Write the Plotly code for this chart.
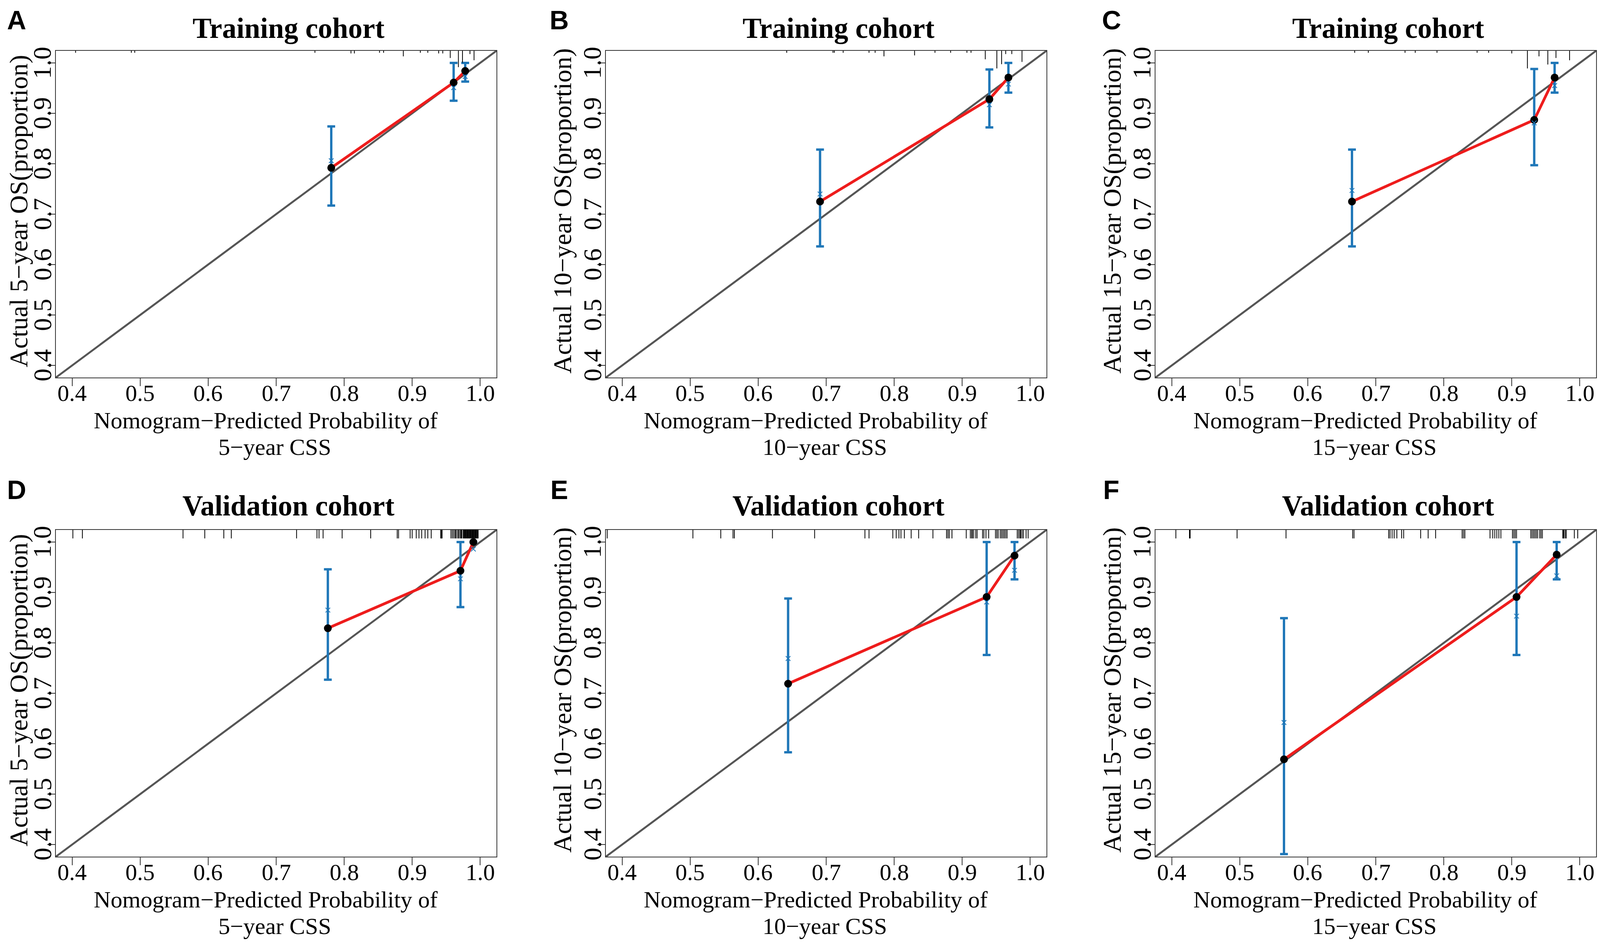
import plotly.graph_objects as go

# ---------------- data ----------------
TICK_VALS = [0.4, 0.5, 0.6, 0.7, 0.8, 0.9, 1.0]
TICK_TEXT = ["0.4", "0.5", "0.6", "0.7", "0.8", "0.9", "1.0"]
AX_RANGE = [0.376, 1.024]

PANEL_LETTERS = ["A", "B", "C", "D", "E", "F"]
PANEL_TITLES = ["Training cohort", "Training cohort", "Training cohort",
                "Validation cohort", "Validation cohort", "Validation cohort"]
Y_TITLES = ["Actual 5\u2212year OS(proportion)", "Actual 10\u2212year OS(proportion)",
            "Actual 15\u2212year OS(proportion)"] * 2
X_TITLE_1 = "Nomogram\u2212Predicted Probability of"
X_TITLE_2 = ["5\u2212year CSS", "10\u2212year CSS", "15\u2212year CSS"] * 2

# Panel A (training, 5-year)
A_pred = [0.781, 0.961, 0.978]
A_obs = [0.792, 0.961, 0.984]
A_lo = [0.717, 0.925, 0.963]
A_hi = [0.874, 1.000, 1.000]
A_bc = [0.806, 0.951, 0.973]
A_rug = [0.405, 0.487, 0.492, 0.757, 0.810, 0.815, 0.852, 0.858, 0.887, 0.912,
         0.923, 0.939, 0.945, 0.956, 0.968, 0.974, 0.985, 0.991]
A_rug_h = [0.006, 0.006, 0.006, 0.006, 0.008, 0.008, 0.006, 0.006, 0.017, 0.006,
           0.006, 0.008, 0.008, 0.022, 0.050, 0.036, 0.010, 0.029]

# Panel B (training, 10-year)
B_pred = [0.691, 0.940, 0.968]
B_obs = [0.725, 0.928, 0.971]
B_lo = [0.636, 0.872, 0.941]
B_hi = [0.828, 0.987, 1.000]
B_bc = [0.740, 0.917, 0.958]
B_rug = [0.642, 0.710, 0.712, 0.725, 0.763, 0.772, 0.785, 0.830, 0.860, 0.883,
         0.907, 0.913, 0.934, 0.951, 0.958, 0.964, 0.973, 0.988]
B_rug_h = [0.006, 0.006, 0.006, 0.006, 0.006, 0.006, 0.017, 0.014, 0.006, 0.006,
           0.006, 0.006, 0.026, 0.054, 0.041, 0.010, 0.010, 0.034]

# Panel C (training, 15-year)
C_pred = [0.665, 0.933, 0.963]
C_obs = [0.725, 0.887, 0.971]
C_lo = [0.636, 0.797, 0.941]
C_hi = [0.828, 0.988, 1.000]
C_bc = [0.747, 0.881, 0.955]
C_rug = [0.669, 0.689, 0.743, 0.758, 0.790, 0.849, 0.866, 0.900, 0.923, 0.940,
         0.953, 0.965, 0.985]
C_rug_h = [0.006, 0.006, 0.006, 0.006, 0.006, 0.006, 0.006, 0.008, 0.054, 0.017,
           0.042, 0.022, 0.029]

# Panel D (validation, 5-year)
D_pred = [0.776, 0.971, 0.990]
D_obs = [0.829, 0.943, 1.000]
D_lo = [0.727, 0.871, 1.000]
D_hi = [0.946, 1.000, 1.000]
D_bc = [0.865, 0.927, 0.986]
D_rug = [0.401, 0.415, 0.563, 0.595, 0.623, 0.634, 0.730, 0.760, 0.763, 0.769,
         0.797, 0.839, 0.878, 0.880, 0.897, 0.900, 0.906, 0.910, 0.914, 0.919,
         0.923, 0.928, 0.942, 0.943, 0.944, 0.957, 0.959, 0.961, 0.963, 0.964,
         0.966, 0.968, 0.969, 0.971, 0.972, 0.973, 0.975, 0.976, 0.977, 0.978,
         0.979, 0.980, 0.981, 0.982, 0.983, 0.984, 0.985, 0.986, 0.987, 0.988,
         0.989, 0.990, 0.991, 0.992, 0.993, 0.994, 0.995, 0.996, 0.997]

# Panel E (validation, 10-year)
E_pred = [0.644, 0.936, 0.977]
E_obs = [0.719, 0.891, 0.973]
E_lo = [0.583, 0.776, 0.926]
E_hi = [0.888, 1.000, 1.000]
E_bc = [0.769, 0.881, 0.944]
E_rug = [0.378, 0.504, 0.545, 0.563, 0.565, 0.621, 0.683, 0.757, 0.763, 0.798,
         0.803, 0.807, 0.810, 0.815, 0.825, 0.836, 0.857, 0.877, 0.879, 0.881,
         0.885, 0.906, 0.912, 0.914, 0.915, 0.917, 0.920, 0.922, 0.930, 0.932,
         0.935, 0.939, 0.949, 0.951, 0.953, 0.956, 0.958, 0.960, 0.962, 0.964,
         0.966, 0.981, 0.983, 0.985, 0.986, 0.988, 0.990, 0.994, 0.997]

# Panel F (validation, 15-year)
F_pred = [0.565, 0.907, 0.966]
F_obs = [0.569, 0.891, 0.975]
F_lo = [0.381, 0.776, 0.926]
F_hi = [0.849, 1.000, 1.000]
F_bc = [0.642, 0.853, 0.933]
F_rug = [0.406, 0.426, 0.427, 0.496, 0.568, 0.666, 0.668, 0.719, 0.721, 0.724,
         0.727, 0.731, 0.738, 0.741, 0.766, 0.777, 0.788, 0.827, 0.829, 0.831,
         0.868, 0.872, 0.875, 0.878, 0.881, 0.884, 0.901, 0.903, 0.905, 0.907,
         0.928, 0.930, 0.932, 0.934, 0.936, 0.938, 0.941, 0.943, 0.945, 0.975,
         0.976, 0.977, 0.979, 0.980, 0.992, 0.997]

VAL_RUG_H = 0.026

PANELS = [
    dict(pred=A_pred, obs=A_obs, lo=A_lo, hi=A_hi, bc=A_bc, rug=A_rug, rug_h=A_rug_h),
    dict(pred=B_pred, obs=B_obs, lo=B_lo, hi=B_hi, bc=B_bc, rug=B_rug, rug_h=B_rug_h),
    dict(pred=C_pred, obs=C_obs, lo=C_lo, hi=C_hi, bc=C_bc, rug=C_rug, rug_h=C_rug_h),
    dict(pred=D_pred, obs=D_obs, lo=D_lo, hi=D_hi, bc=D_bc, rug=D_rug, rug_h=[VAL_RUG_H] * len(D_rug)),
    dict(pred=E_pred, obs=E_obs, lo=E_lo, hi=E_hi, bc=E_bc, rug=E_rug, rug_h=[VAL_RUG_H] * len(E_rug)),
    dict(pred=F_pred, obs=F_obs, lo=F_lo, hi=F_hi, bc=F_bc, rug=F_rug, rug_h=[VAL_RUG_H] * len(F_rug)),
]

# ---------------- style / layout ----------------
# the page viewport is 4096 px wide; the body keeps its default 8 px margin
W, H = 4080, 2405
COL_LEFT = [135, 1543, 2950]
BOX_W = 1128
ROW_TOP = [122, 1348]
BOX_H = 836
LETTER_X = [34, 1423, 2837]
LETTER_DY = [-79, -103]
TITLE_DY = [-58, -62]
YTITLE_X = [40, 1432, 2839]
XT1_DY = 110
XT2_DY = 178

SERIF = "Liberation Serif, Times New Roman, serif"
SANS = "Liberation Sans, Arial, sans-serif"
BLUE = "#1f77b8"
RED = "#ee1c1c"
DIAG = "#555555"
FRAME = "#333333"

fig = go.Figure()
layout = dict(
    width=W, height=H, margin=dict(l=0, r=0, t=0, b=0),
    paper_bgcolor="white", plot_bgcolor="white", showlegend=False,
)
shapes = []
annotations = []


def px_x(px):
    return px / W


def px_y(py):
    return 1 - py / H


def txt(text, x, y, size, family=SERIF, angle=0, xref="paper", yref="paper"):
    return dict(text=text, xref=xref, yref=yref, x=x, y=y, textangle=angle,
                xanchor="center", yanchor="middle", showarrow=False,
                font=dict(family=family, size=size, color="black"))


for i, p in enumerate(PANELS):
    r, c = divmod(i, 3)
    n = "" if i == 0 else str(i + 1)
    xa, ya = "x" + n, "y" + n
    left = COL_LEFT[c]
    top = ROW_TOP[r]
    bottom = top + BOX_H
    cx = left + BOX_W / 2

    axis_common = dict(
        range=AX_RANGE, tickvals=TICK_VALS, showticklabels=False,
        ticks="outside", ticklen=20, tickwidth=2, tickcolor=FRAME,
        showline=True, linecolor=FRAME, linewidth=2, mirror=True,
        showgrid=False, zeroline=False,
    )
    layout["xaxis" + n] = dict(axis_common,
                               domain=[px_x(left), px_x(left + BOX_W)],
                               anchor=ya)
    layout["yaxis" + n] = dict(axis_common,
                               domain=[px_y(bottom), px_y(top)],
                               anchor=xa)

    # diagonal reference line (ideal calibration)
    shapes.append(dict(type="line", xref=xa, yref=ya,
                       x0=AX_RANGE[0], y0=AX_RANGE[0], x1=AX_RANGE[1], y1=AX_RANGE[1],
                       line=dict(color=DIAG, width=5), layer="below"))

    # rug of predicted probabilities at the top
    for v, h in zip(p["rug"], p["rug_h"]):
        shapes.append(dict(type="line", xref=xa, yref=ya + " domain",
                           x0=v, x1=v, y0=1, y1=1 - h,
                           line=dict(color="black", width=2)))

    # error bars
    fig.add_trace(go.Scatter(
        x=p["pred"], y=p["obs"], mode="markers", xaxis=xa, yaxis=ya,
        marker=dict(size=1, opacity=0),
        error_y=dict(type="data", symmetric=False,
                     array=[h - o for h, o in zip(p["hi"], p["obs"])],
                     arrayminus=[o - l for o, l in zip(p["obs"], p["lo"])],
                     color=BLUE, thickness=6, width=10),
        hoverinfo="skip"))
    # calibration curve
    fig.add_trace(go.Scatter(
        x=p["pred"], y=p["obs"], mode="lines", xaxis=xa, yaxis=ya,
        line=dict(color=RED, width=7), hoverinfo="skip"))
    # observed points
    fig.add_trace(go.Scatter(
        x=p["pred"], y=p["obs"], mode="markers", xaxis=xa, yaxis=ya,
        marker=dict(color="black", size=20), hoverinfo="skip"))
    # bias-corrected estimates
    fig.add_trace(go.Scatter(
        x=p["pred"], y=p["bc"], mode="markers", xaxis=xa, yaxis=ya,
        marker=dict(symbol="x-thin-open", size=12, color=BLUE,
                    line=dict(color=BLUE, width=2)),
        hoverinfo="skip"))

    # tick labels
    for v, t in zip(TICK_VALS, TICK_TEXT):
        annotations.append(txt(t, v, px_y(bottom + 40), 60, xref=xa))
        annotations.append(txt(t, px_x(left - 35), v, 66, angle=-90, yref=ya))

    # texts
    annotations.append(txt("<b>" + PANEL_LETTERS[i] + "</b>", px_x(LETTER_X[c]),
                           px_y(top + LETTER_DY[r]), 68, family=SANS))
    annotations.append(txt("<b>" + PANEL_TITLES[i] + "</b>", px_x(cx + 31),
                           px_y(top + TITLE_DY[r]), 73))
    annotations.append(txt(Y_TITLES[i], px_x(YTITLE_X[c]), px_y(top + BOX_H / 2 - 8), 66, angle=-90))
    annotations.append(txt(X_TITLE_1, px_x(cx - 27), px_y(bottom + XT1_DY), 60))
    annotations.append(txt(X_TITLE_2[i], px_x(cx - 4), px_y(bottom + XT2_DY), 60))

layout["shapes"] = shapes
layout["annotations"] = annotations
fig.update_layout(**layout)
fig.write_html("out.html")
